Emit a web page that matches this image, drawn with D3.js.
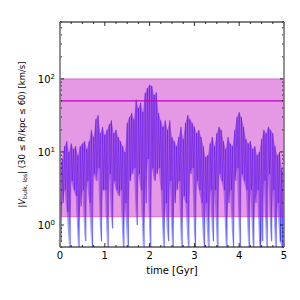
<!DOCTYPE html>
<html>
<head>
<meta charset="utf-8">
<script src="https://cdn.jsdelivr.net/npm/d3@7"></script>
<style>
body{margin:0;background:#fff;}
svg{font-family:"DejaVu Sans",sans-serif;}
</style>
</head>
<body>
<svg id="chart" width="300" height="300"></svg>
<script>
// time grid, 0.05 Gyr
var times=d3.range(0,101).map(function(i){return +(i*0.05).toFixed(2);});
// upper values of |V| in each step [km/s]
var vHi=[6,8, 12,14, 10,13, 11,12, 9,12, 13,14, 11,14, 20,16, 28,32, 18,22,
         17,20, 24,27, 18,20, 16,14, 12,10, 25,30, 34,28, 52,40, 47,35, 64,75,
         83,80, 60,65, 34,27, 22,27, 20,27, 16,14, 12,16, 22,15, 25,32, 28,25,
         22,18, 20,16, 12,8.5, 9,13, 16,12, 18,22, 20,14, 11,16, 13,12, 20,30,
         35,30, 22,15, 13,14, 11,12, 9,10, 15,20, 18,22, 20,18, 12,9, 10,6, 5];
// lower values
var vLo=[0.6,2, 3,1.5, 0.5,4, 3,2.5, 0.5,1.8, 3,0.6, 4,2, 0.5,5, 4,6, 0.6,3,
         3,0.5, 5,0.9, 4,3, 2.5,3, 0.5,2, 0.5,4, 5,6, 1,5, 3,0.5, 2,8,
         0.5,6, 4,5, 6,3, 0.5,2, 0.6,4, 0.5,2, 3,4, 0.5,2.5, 2,0.5, 5,6,
         0.5,4, 3,2, 0.5,2, 0.5,3, 0.6,3, 0.5,5, 4,3, 0.5,2, 3,0.5, 4,6,
         0.5,5, 4,3, 0.5,3, 0.5,2, 3,0.5, 0.6,4, 0.5,5, 0.6,3, 0.5,2, 0.6,0.5, 0.5];
var bandLo=1.3, bandHi=100, refLine=50;
var xTicks=[0,1,2,3,4,5];
var yTicks=[1,10,100];

var svg=d3.select("#chart");
var L=60,R=284,T=22,B=247;
var x=d3.scaleLinear().domain([0,5]).range([L,R]);
var y=d3.scaleLog().domain([0.5,600]).range([B,T]);
var clip=svg.append("clipPath").attr("id","clp").append("rect")
    .attr("x",L).attr("y",T).attr("width",R-L).attr("height",B-T);
var g=svg.append("g").attr("clip-path","url(#clp)");

//区域填充
var area=d3.area()
    .x(function(d,i){return x(times[i]);})
    .y0(function(d,i){return y(vLo[i]);})
    .y1(function(d,i){return y(vHi[i]);});
g.append("path").datum(times).attr("d",area)
    .attr("fill","#0000ff").attr("fill-opacity",0.38);

// zigzag line hi/lo
var zz=[];
for(var i=0;i<times.length;i++){
    zz.push([times[i],vHi[i]]);
    if(i<times.length-1) zz.push([times[i]+0.025,vLo[i]]);
}
g.append("path").datum(zz)
    .attr("d",d3.line().x(function(d){return x(d[0]);}).y(function(d){return y(d[1]);}))
    .attr("fill","none").attr("stroke","#0000ff").attr("stroke-opacity",0.5).attr("stroke-width",0.8);

// band
g.append("rect").attr("x",L).attr("width",R-L)
    .attr("y",y(bandHi)).attr("height",y(bandLo)-y(bandHi))
    .attr("fill","#bf00bf").attr("fill-opacity",0.4)
    .attr("stroke","#bf00bf").attr("stroke-opacity",0.4).attr("stroke-width",1);
g.append("line").attr("x1",L).attr("x2",R).attr("y1",y(refLine)).attr("y2",y(refLine))
    .attr("stroke","#bf00bf").attr("stroke-width",1.2);

// ticks
var minorX=d3.range(0,5.001,0.25);
minorX.forEach(function(t){
    var major=Math.abs(t-Math.round(t))<1e-6;
    var len=major?4:2;
    svg.append("line").attr("x1",x(t)).attr("x2",x(t)).attr("y1",B).attr("y2",B-len).attr("stroke","#000").attr("stroke-width",0.8);
    svg.append("line").attr("x1",x(t)).attr("x2",x(t)).attr("y1",T).attr("y2",T+len).attr("stroke","#000").attr("stroke-width",0.8);
});
var minorY=[];
[0.1,1,10,100].forEach(function(d){for(var k=1;k<10;k++)minorY.push(d*k);});
minorY.filter(function(v){return v>=0.5&&v<=600;}).forEach(function(v){
    var major=yTicks.indexOf(v)>=0;
    var len=major?4:2;
    svg.append("line").attr("x1",L).attr("x2",L+len).attr("y1",y(v)).attr("y2",y(v)).attr("stroke","#000").attr("stroke-width",0.8);
    svg.append("line").attr("x1",R).attr("x2",R-len).attr("y1",y(v)).attr("y2",y(v)).attr("stroke","#000").attr("stroke-width",0.8);
});

// frame
svg.append("line").attr("x1",L).attr("x2",R).attr("y1",T).attr("y2",T).attr("stroke","#000").attr("stroke-width",1);
svg.append("line").attr("x1",L).attr("x2",R).attr("y1",B).attr("y2",B).attr("stroke","#000").attr("stroke-width",1);
svg.append("line").attr("x1",L).attr("x2",L).attr("y1",T).attr("y2",B).attr("stroke","#777").attr("stroke-width",1.6);
svg.append("line").attr("x1",R).attr("x2",R).attr("y1",T).attr("y2",B).attr("stroke","#777").attr("stroke-width",1.6);

// labels
xTicks.forEach(function(t){
    svg.append("text").attr("x",x(t)).attr("y",B+12).attr("text-anchor","middle")
        .attr("font-size",10).text(t);
});
yTicks.forEach(function(v,i){
    var tx=svg.append("text").attr("x",L-5).attr("y",y(v)+4).attr("text-anchor","end").attr("font-size",10);
    tx.append("tspan").text("10");
    tx.append("tspan").attr("dy",-4).attr("font-size",7).text(i);
});
svg.append("text").attr("x",(L+R)/2).attr("y",B+27).attr("text-anchor","middle")
    .attr("font-size",10).text("time [Gyr]");
var yl=svg.append("text").attr("transform","translate(25,"+(T+B)/2+") rotate(-90)")
    .attr("text-anchor","middle").attr("font-size",8.5);
yl.append("tspan").text("|");
yl.append("tspan").attr("font-style","italic").text("V");
yl.append("tspan").attr("dy",2).attr("font-size",6).text("bulk, los");
yl.append("tspan").attr("dy",-2).text("| (30 ≤ ");
yl.append("tspan").attr("font-style","italic").text("R");
yl.append("tspan").text("/kpc ≤ 60) [km/s]");
</script>
</body>
</html>
